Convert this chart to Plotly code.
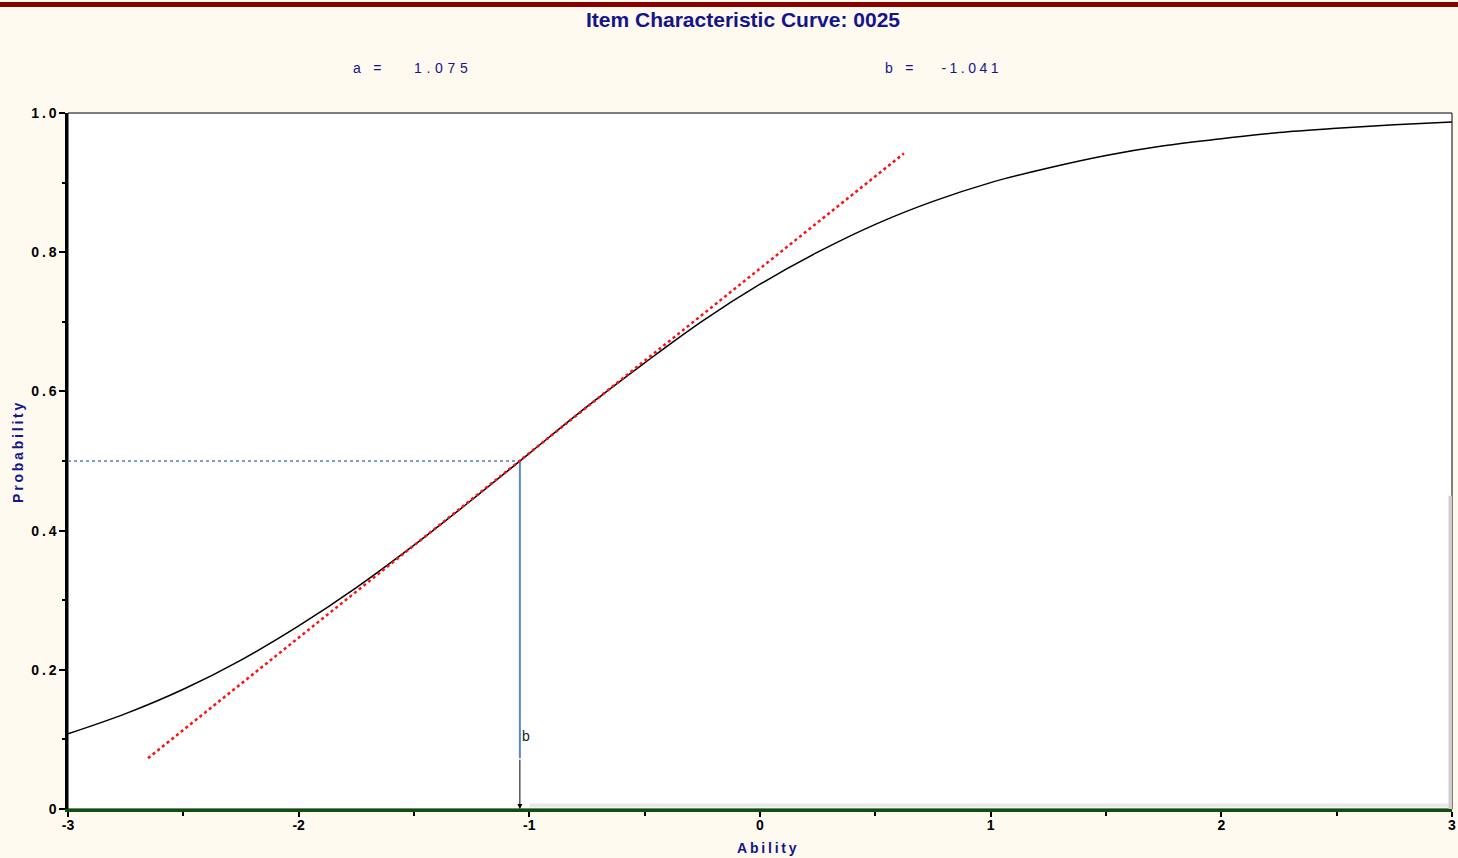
import plotly.graph_objects as go

# item parameters shown in the header
a_param = "1.075"
b_param = "-1.041"
b_value = -1.041

# item characteristic curve
ability = [-3.0, -2.75, -2.5, -2.25, -2.0, -1.75, -1.5, -1.25, -1.0, -0.75, -0.5, -0.25,
           0.0, 0.25, 0.5, 0.75, 1.0, 1.25, 1.5, 1.75, 2.0, 2.25, 2.5, 2.75, 3.0]
probability = [0.108, 0.137, 0.172, 0.214, 0.263, 0.318, 0.379, 0.444, 0.511, 0.578, 0.641, 0.701,
               0.754, 0.800, 0.840, 0.873, 0.900, 0.921, 0.939, 0.953, 0.963, 0.972, 0.978, 0.983, 0.987]

# tangent at b (red dotted)
tangent_x = [-2.653, 0.624]
tangent_y = [0.073, 0.942]

# b marker: dotted guide at P = 0.5 and vertical drop
guide_x = [-3.0, b_value]
guide_y = [0.5, 0.5]
drop_y = [0.5, 0.073]

x_ticks = [-3, -2, -1, 0, 1, 2, 3]
x_tick_labels = ["-3", "-2", "-1", "0", "1", "2", "3"]
y_ticks = [0, 0.2, 0.4, 0.6, 0.8, 1.0]
y_tick_labels = ["0", "0.2", "0.4", "0.6", "0.8", "1.0"]

navy = "#14148c"
cream = "#fffaef"
W, H = 1458, 858
L, R, T, B = 68, 6, 113, 49
PW, PH = W - L - R, H - T - B


def spaced(s, gap="\u2009"):
    # the original draws its labels letter-spaced
    return gap.join(s)


def px_x(p):
    return (p - L) / PW


def px_y(p):
    return (H - B - p) / PH


tick_font = dict(family="Liberation Sans", size=14, color="black", weight="bold")

fig = go.Figure()
fig.add_trace(go.Scatter(x=guide_x, y=guide_y, mode="lines",
                         line=dict(color="#4f81bd", width=1.5, dash="dot"), hoverinfo="skip"))
fig.add_trace(go.Scatter(x=[b_value, b_value], y=drop_y, mode="lines",
                         line=dict(color="#5a8ac6", width=2), hoverinfo="skip"))
fig.add_trace(go.Scatter(x=ability, y=probability, mode="lines", line_shape="spline",
                         line=dict(color="black", width=1.5), name="ICC"))
fig.add_trace(go.Scatter(x=tangent_x, y=tangent_y, mode="lines",
                         line=dict(color="#ff1010", width=2.5, dash="dot"), hoverinfo="skip"))

# arrow from end of drop line down to the ability axis
fig.add_annotation(x=b_value, y=0, ax=b_value, ay=drop_y[1], xref="x", yref="y",
                   axref="x", ayref="y", showarrow=True, arrowhead=2, arrowsize=1,
                   arrowwidth=1, arrowcolor="black", text="")
fig.add_annotation(x=b_value, y=0.105, text="b", showarrow=False, xanchor="left",
                   xshift=0, font=dict(family="Liberation Sans", size=14, color="#222"))

# header texts
fig.add_annotation(x=px_x(743), y=px_y(19), xref="paper", yref="paper", yanchor="middle",
                   text="Item Characteristic Curve: 0025", showarrow=False,
                   font=dict(family="Liberation Sans", size=21, color=navy, weight="bold"))
fig.add_annotation(x=px_x(351), y=px_y(68), xref="paper", yref="paper", xanchor="left",
                   yanchor="middle", text="a \u2004 =\u2003\u2003\u2004" + spaced(a_param, "\u2004"),
                   showarrow=False, font=dict(family="Liberation Sans", size=14, color=navy))
fig.add_annotation(x=px_x(883), y=px_y(68), xref="paper", yref="paper", xanchor="left",
                   yanchor="middle", text="b \u2004 =\u2003\u2003" + spaced(b_param, "\u2005"),
                   showarrow=False, font=dict(family="Liberation Sans", size=14, color=navy))

# axis titles
axis_title_font = dict(family="Liberation Sans", size=14, color=navy, weight="bold")
fig.add_annotation(x=px_x(767), y=px_y(848), xref="paper", yref="paper", yanchor="middle",
                   text=spaced("Ability"), showarrow=False, font=axis_title_font)
fig.add_annotation(x=px_x(18), y=px_y(452), xref="paper", yref="paper", yanchor="middle",
                   xanchor="center", textangle=-90, text=spaced("Probability"),
                   showarrow=False, font=axis_title_font)

fig.update_layout(
    width=W, height=H,
    margin=dict(l=L, r=R, t=T, b=B, autoexpand=False),
    paper_bgcolor=cream, plot_bgcolor="white",
    showlegend=False,
    shapes=[
        dict(type="rect", xref="paper", yref="paper", x0=px_x(0), x1=px_x(W),
             y0=px_y(7), y1=px_y(2), fillcolor="#860000", line_width=0, layer="above"),
        dict(type="rect", xref="x", yref="y", x0=-1.0, x1=3, y0=0.002, y1=0.008,
             fillcolor="#e8e8e8", line_width=0, layer="below"),
        dict(type="rect", xref="x", yref="y", x0=2.985, x1=3, y0=0, y1=0.45,
             fillcolor="#cfcfcf", line_width=0, layer="below"),
        dict(type="rect", xref="paper", yref="paper", x0=0, x1=1, y0=0, y1=1,
             line=dict(color="black", width=1), layer="below"),
    ],
)
fig.update_xaxes(
    range=[-3, 3], tickvals=x_ticks, ticktext=x_tick_labels, showgrid=False, zeroline=False,
    showline=True, linecolor="#0b520b", linewidth=2.5,
    ticks="outside", ticklen=5, tickwidth=2, tickcolor="black", tickfont=tick_font,
    ticklabelstandoff=-4,
    minor=dict(ticks="outside", ticklen=4, tickwidth=2, tickcolor="black", dtick=0.5, showgrid=False),
)
fig.update_yaxes(
    range=[0, 1], tickvals=y_ticks, ticktext=[spaced(t) for t in y_tick_labels],
    showgrid=False, zeroline=False,
    showline=True, linecolor="black", linewidth=2.5,
    ticks="outside", ticklen=6, tickwidth=2, tickcolor="black", tickfont=tick_font,
    minor=dict(ticks="outside", ticklen=3, tickwidth=2, tickcolor="black", dtick=0.1, showgrid=False),
)

fig.write_html("out.html", config={"displayModeBar": False},
               post_script="document.body.style.margin='0px';")
